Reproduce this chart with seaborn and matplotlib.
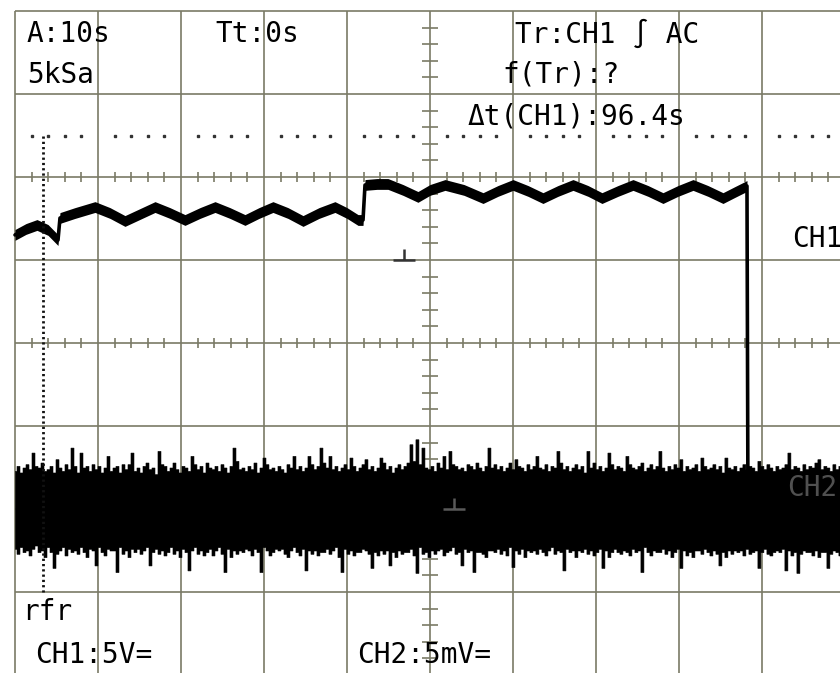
import numpy as np
import pandas as pd
import matplotlib
matplotlib.use("Agg")
import matplotlib.pyplot as plt
from matplotlib.path import Path
import seaborn as sns

time_per_div_s = 10          # A:10s
n_hdiv = 10
n_vdiv = 8

# CH1 trace (5 V/div, ground at +1 div)
ch1_volts_per_div = 5.0
ch1_ground_div = 1.0
ch1_time_s = [0, 1.33, 2.65, 3.98, 5.18, 5.42, 7.23, 9.64, 11.45, 13.25,
              15.06, 16.87, 18.67, 20.48, 22.29, 24.10, 25.90, 27.71, 29.40, 31.08,
              32.89, 34.70, 36.63, 38.55, 40.0, 41.33, 41.93, 42.17, 43.61, 44.94,
              46.75, 48.55, 50.0, 51.81, 54.10, 56.39, 58.19, 60.0, 61.81, 63.61,
              65.42, 67.23, 69.04, 70.72, 72.65, 74.46, 76.27, 78.07, 79.88, 81.69,
              83.49, 85.30, 86.75, 88.19, 88.31]
ch1_volts = [1.51, 1.87, 2.11, 1.81, 1.20, 2.53, 2.83, 3.19, 2.83, 2.35,
             2.77, 3.19, 2.83, 2.41, 2.83, 3.19, 2.83, 2.41, 2.83, 3.19,
             2.83, 2.35, 2.83, 3.19, 2.83, 2.41, 2.41, 4.52, 4.58, 4.58,
             4.22, 3.80, 4.22, 4.52, 4.22, 3.73, 4.16, 4.52, 4.16, 3.73,
             4.16, 4.52, 4.16, 3.73, 4.16, 4.52, 4.16, 3.73, 4.16, 4.52,
             4.16, 3.73, 4.10, 4.46, -15.0]

# CH2 noise (5 mV/div, ground at -2 div), peak-detect max/min per display column
ch2_mv_per_div = 5.0
ch2_ground_div = -2.0
ch2_start_s = 0.0
ch2_step_s = 0.3614
ch2_max_mv = [
    2.3, 2.6, 2.2, 2.5, 2.7, 2.4, 3.4, 2.6, 2.5, 2.8, 2.3, 2.4, 2.6, 2.2, 3.0, 2.5, 2.3, 2.7, 2.4, 3.7,
    2.6, 2.2, 3.4, 2.5, 2.6, 2.3, 2.7, 2.4, 2.6, 2.2, 2.5, 3.2, 2.3, 2.5, 2.6, 2.2, 2.7, 2.4, 2.7, 3.4,
    2.3, 2.5, 2.2, 2.6, 2.8, 2.4, 2.5, 2.1, 3.5, 2.7, 2.6, 2.3, 2.5, 2.8, 2.4, 2.2, 2.6, 2.5, 2.3, 3.2,
    2.7, 2.4, 2.6, 2.2, 2.8, 2.5, 2.4, 2.6, 2.3, 2.7, 2.5, 2.2, 2.6, 3.7, 2.9, 2.4, 2.5, 2.3, 2.6, 2.4,
    2.8, 2.2, 2.5, 3.1, 2.7, 2.4, 2.5, 2.3, 2.6, 2.4, 2.2, 2.7, 2.5, 3.2, 2.4, 2.6, 2.3, 2.5, 3.2, 2.7,
    2.4, 2.6, 3.7, 2.8, 2.5, 3.2, 2.4, 2.6, 2.3, 2.5, 2.7, 2.4, 3.1, 2.6, 2.3, 2.5, 2.7, 3.0, 2.4, 2.6,
    2.3, 2.5, 3.1, 2.8, 2.4, 2.6, 2.2, 2.5, 2.7, 2.4, 2.6, 2.8, 3.9, 2.9, 4.2, 2.7, 3.7, 2.5, 2.4, 2.6,
    2.3, 2.8, 2.5, 3.2, 2.4, 3.5, 2.7, 2.6, 2.4, 2.5, 2.3, 2.7, 2.6, 2.4, 2.8, 2.5, 2.3, 2.6, 3.7, 2.5,
    2.7, 2.4, 2.6, 2.3, 2.5, 2.8, 2.4, 3.0, 2.6, 2.5, 2.3, 2.7, 2.4, 2.6, 3.2, 2.5, 2.4, 2.7, 2.3, 2.6,
    2.5, 3.5, 2.8, 2.4, 2.6, 2.3, 2.5, 2.7, 2.4, 2.6, 2.2, 3.5, 2.5, 2.8, 2.4, 2.6, 2.3, 2.5, 3.4, 2.7,
    2.4, 2.6, 2.5, 2.3, 3.2, 2.7, 2.5, 2.4, 2.6, 2.8, 2.3, 2.5, 2.7, 2.4, 2.6, 3.5, 2.5, 2.3, 2.6, 2.4,
    2.7, 2.5, 3.0, 2.3, 2.6, 2.4, 2.5, 2.7, 2.3, 3.1, 2.6, 2.4, 2.5, 2.7, 2.4, 2.6, 2.2, 3.1, 2.5, 2.4,
    2.6, 2.3, 2.5, 2.7, 2.4, 2.6, 2.5, 2.3, 2.9, 2.6, 2.4, 2.7, 2.5, 2.3, 2.6, 2.4, 2.5, 2.7, 3.4, 2.4,
    2.6, 2.5, 2.3, 2.7, 2.4, 2.6, 2.5, 2.8, 3.0, 2.4, 2.6, 2.5, 2.3, 2.7, 2.4, 2.6, 2.5, 2.4, 2.6, 2.5,
    2.6]
ch2_min_mv = [
    -2.4, -2.7, -2.3, -2.6, -2.5, -2.8, -2.4, -2.2, -2.6, -2.5, -2.9, -2.3, -2.6, -3.55, -2.7, -2.5, -2.3, -2.8, -2.4, -2.6,
    -2.5, -2.7, -2.3, -2.6, -2.9, -2.4, -2.5, -3.4, -2.3, -2.6, -2.8, -2.4, -2.5, -2.5, -3.8, -2.3, -2.7, -2.5, -2.9, -2.4,
    -2.6, -2.4, -2.7, -2.5, -2.3, -3.4, -2.6, -2.4, -2.7, -2.5, -2.8, -2.6, -2.3, -2.7, -2.5, -2.9, -2.4, -2.6, -3.7, -2.5,
    -2.3, -2.7, -2.5, -2.8, -2.6, -2.4, -2.8, -2.5, -2.3, -2.7, -3.8, -2.4, -2.9, -2.5, -2.7, -2.5, -2.6, -2.4, -2.5, -2.8,
    -2.4, -2.6, -3.8, -2.3, -2.5, -2.8, -2.6, -2.4, -2.5, -2.4, -2.7, -2.9, -2.5, -2.3, -2.6, -2.8, -2.4, -3.7, -2.5, -2.7,
    -2.5, -2.8, -2.6, -2.6, -2.4, -2.7, -2.5, -2.3, -2.9, -3.8, -2.4, -2.7, -2.5, -2.8, -2.6, -2.6, -2.4, -2.5, -2.7, -3.55,
    -2.6, -2.8, -2.5, -2.7, -2.5, -3.4, -2.6, -2.9, -2.5, -2.7, -2.6, -2.6, -2.4, -2.8, -3.85, -2.3, -2.7, -2.6, -2.9, -2.5,
    -2.7, -2.5, -2.4, -2.8, -2.6, -2.5, -2.3, -2.7, -2.6, -3.4, -2.4, -2.6, -2.5, -3.8, -2.6, -2.6, -2.7, -2.9, -2.5, -2.5,
    -2.6, -2.4, -2.7, -2.5, -2.8, -2.3, -3.5, -2.5, -2.7, -2.4, -2.9, -2.5, -2.6, -2.5, -2.7, -2.4, -2.6, -2.8, -2.5, -2.3,
    -2.7, -2.5, -2.6, -3.7, -2.4, -2.6, -2.5, -2.9, -2.5, -2.6, -2.4, -2.7, -2.5, -2.8, -2.6, -2.4, -3.55, -2.5, -2.9, -2.6,
    -2.4, -2.6, -2.7, -2.5, -2.6, -2.8, -2.4, -2.6, -2.5, -3.8, -2.3, -2.6, -2.8, -2.5, -2.6, -2.6, -2.4, -2.7, -2.5, -2.9,
    -2.6, -2.4, -3.55, -2.5, -2.8, -2.6, -2.9, -2.5, -2.5, -2.7, -2.4, -2.6, -2.8, -2.5, -2.7, -3.4, -2.6, -2.9, -2.5, -2.7,
    -2.5, -2.6, -2.5, -2.8, -2.4, -2.7, -2.6, -2.5, -3.55, -2.6, -2.4, -2.7, -2.8, -2.6, -2.5, -2.6, -2.4, -3.7, -2.5, -2.8,
    -2.6, -3.85, -2.7, -2.5, -2.6, -2.6, -2.8, -2.5, -2.9, -2.6, -2.6, -3.55, -2.7, -2.5, -2.6, -2.8, -2.4, -2.6, -2.6, -2.5,
    -2.7]

# cursors
cursor_time_s = 3.37
cursor_level_div = 2.5
cursor_bottom_div = -3.0

# screen labels
top_labels = [("A:10s", 27, 34), ("5kSa", 27, 75), ("Tt:0s", 215, 34),
              ("Tr:CH1 \u222b AC", 515, 34), ("f(Tr):?", 502, 75),
              ("\u0394t(CH1):96.4s", 467, 116)]
bottom_labels = [("rfr", 22, 612), ("CH1:5V=", 35, 655), ("CH2:5mV=", 357, 655)]
ch1_label = ("CH1", 792, 239)
ch2_label = ("CH2", 787, 488)
ch1_marker_time_s = 46.87
ch2_marker_time_s = 52.89

# ---------------- drawing ----------------
sns.set_style("white")
plt.rcParams['font.family'] = ['DejaVu Sans Mono', 'DejaVu Sans']

W, H = 840, 673
fig = plt.figure(figsize=(W / 100, H / 100), dpi=100)
ax = fig.add_axes([0, 0, 1, 1])
ax.set_facecolor("white")

GRID = "#7a7a66"
px_per_div = 83.0
x0_px, y0_px = 15.0, 343.0
xlim = ((0 - x0_px) / px_per_div * time_per_div_s, (W - x0_px) / px_per_div * time_per_div_s)
ylim = ((y0_px - H) / px_per_div, y0_px / px_per_div)

# graticule
tmax = n_hdiv * time_per_div_s
ax.vlines(np.arange(0, tmax + 1, time_per_div_s), -n_vdiv / 2, n_vdiv / 2, color=GRID, lw=1.2, zorder=1)
ax.hlines(np.arange(-n_vdiv / 2, n_vdiv / 2 + 1), 0, tmax, color=GRID, lw=1.2, zorder=1)

minor_t = [t for t in np.arange(2, tmax, 2) if t % time_per_div_s != 0]
for lvl in (0.0, 2.0):
    ax.vlines(minor_t, lvl - 0.055, lvl + 0.055, color=GRID, lw=1.2, zorder=1)
minor_v = [v for v in np.round(np.arange(-3.8, 3.81, 0.2), 1) if abs(v - round(v)) > 0.01]
ax.hlines(minor_v, tmax / 2 - 0.96, tmax / 2 + 0.96, color=GRID, lw=1.2, zorder=1)

# cursors
ax.plot(minor_t, [cursor_level_div] * len(minor_t), linestyle="none", marker="s",
        ms=1.5, color="#333333", zorder=2)
ax.plot([cursor_time_s, cursor_time_s], [cursor_level_div, cursor_bottom_div],
        color="#111111", lw=2.0, ls=(0, (0.8, 1.1)), zorder=5)

# CH2 noise
ch2_t = ch2_start_s + ch2_step_s * np.arange(len(ch2_max_mv))
ch2_hi = ch2_ground_div + np.array(ch2_max_mv) / ch2_mv_per_div
ch2_lo = ch2_ground_div + np.array(ch2_min_mv) / ch2_mv_per_div
ax.fill_between(ch2_t, ch2_lo, ch2_hi, step="mid", color="black", lw=0.4, zorder=3)

# CH1 trace
df1 = pd.DataFrame({"t": ch1_time_s,
                    "div": ch1_ground_div + np.array(ch1_volts) / ch1_volts_per_div})
ax.fill_between(df1["t"][:-1], df1["div"][:-1] - 0.065, df1["div"][:-1] + 0.065,
                color="black", lw=0, zorder=4)
sns.lineplot(data=df1, x="t", y="div", ax=ax, color="black", lw=2.6,
             sort=False, estimator=None, zorder=4, solid_joinstyle="round")

# ground markers
gnd = Path([(-1, 0), (1, 0), (0, 0), (0, 1.0)],
           [Path.MOVETO, Path.LINETO, Path.MOVETO, Path.LINETO])
ax.plot([ch1_marker_time_s], [ch1_ground_div], marker=gnd, ms=16, mew=1.8,
        color="#333333", linestyle="none", zorder=6)
ax.plot([ch2_marker_time_s], [ch2_ground_div], marker=gnd, ms=16, mew=1.8,
        color="#5a5a5a", linestyle="none", zorder=6)

ax.set_xlim(*xlim)
ax.set_ylim(*ylim)
ax.axis("off")

# texts
def put(s, x, y, color="black"):
    fig.text(x / W, 1 - y / H, s, fontsize=20, color=color, ha="left", va="center",
             family=['DejaVu Sans Mono', 'DejaVu Sans'])

for s, x, y in top_labels + bottom_labels:
    put(s, x, y)
put(*ch1_label)
put(*ch2_label, color="#505050")

fig.savefig("out.png", dpi=100, facecolor="white")
